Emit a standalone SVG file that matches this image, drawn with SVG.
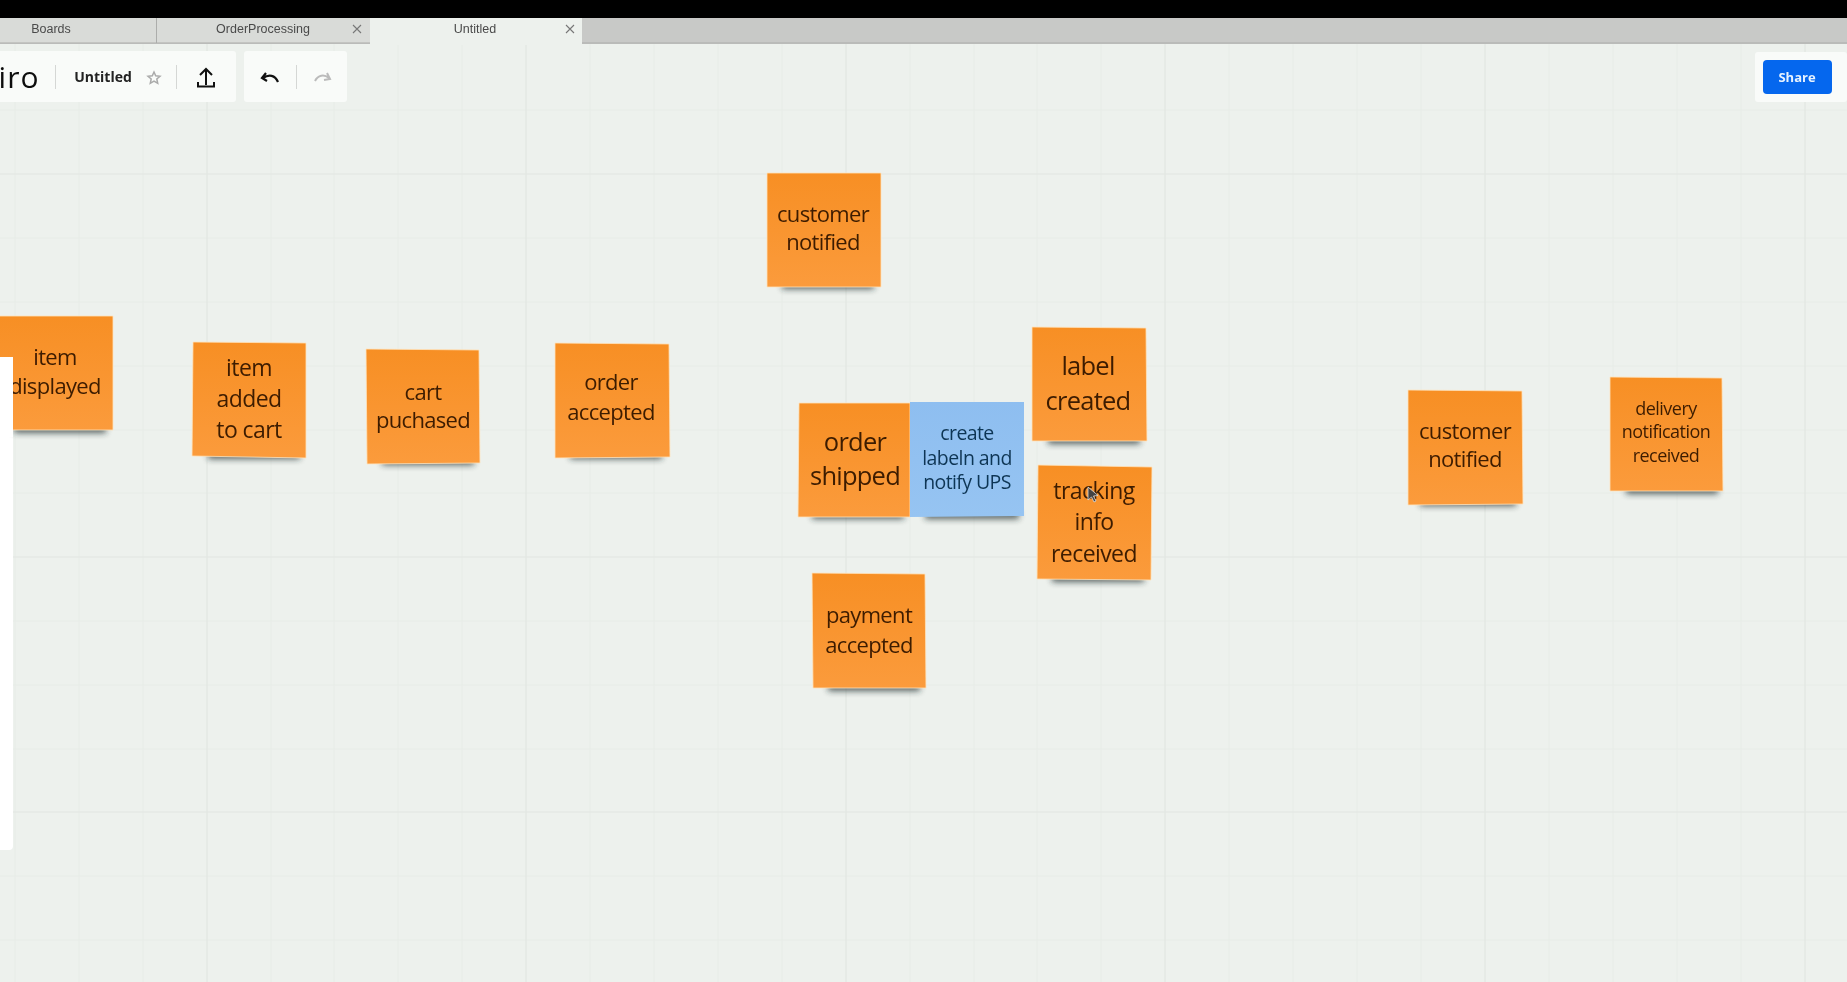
<svg xmlns="http://www.w3.org/2000/svg" width="1847" height="982" viewBox="0 0 1847 982">
<style>
.note{fill:url(#og);stroke:#ffe3bd;stroke-width:.8}
.blue{fill:url(#bg)}
.sh{fill:#1f2b2b;opacity:.72;filter:url(#b3)}
text{font-family:"Open Sans","Noto Sans","DejaVu Sans",sans-serif;text-anchor:middle;fill:#3d1c03;filter:url(#soft)}
.t22{font-size:22px;letter-spacing:-.03em}.t24{font-size:23px;letter-spacing:-.025em}.t26{font-size:25.500px;letter-spacing:-.03em}.t18{font-size:18px;letter-spacing:-.03em}.t20{font-size:19.500px;letter-spacing:-.03em}
.blue-t{fill:#0f3654}
.tab{font-family:"Liberation Sans",sans-serif;font-size:12.500px;fill:#4a4a4a}
.minor{stroke:#e7ece7;stroke-width:1;fill:none}
.major{stroke:#e1e6e1;stroke-width:1.200;fill:none}
.panel{fill:#f9fbf9}
.x{stroke:#777;stroke-width:1.100;fill:none}
</style>
<defs>
<linearGradient id="og" x1="0" y1="0" x2="0" y2="1"><stop offset="0" stop-color="#f78f24"/><stop offset="1" stop-color="#fb9b3c"/></linearGradient>
<linearGradient id="bg" x1="0" y1="0" x2="0" y2="1"><stop offset="0" stop-color="#8ebef0"/><stop offset="1" stop-color="#96c4f2"/></linearGradient>
<filter id="b3" x="-20%" y="-200%" width="140%" height="500%"><feGaussianBlur stdDeviation="3"/></filter>
<filter id="soft" x="-5%" y="-10%" width="110%" height="120%"><feGaussianBlur stdDeviation="0.4"/></filter>
</defs>
<rect width="1847" height="982" fill="#edf1ed"/>
<g id="grid">
<path class="minor" d="M15 44V982M79 44V982M143 44V982M271 44V982M334 44V982M398 44V982M462 44V982M590 44V982M654 44V982M718 44V982M782 44V982M910 44V982M974 44V982M1037 44V982M1101 44V982M1229 44V982M1293 44V982M1357 44V982M1421 44V982M1549 44V982M1613 44V982M1677 44V982M1741 44V982"/>
<path class="minor" d="M0 110H1847M0 238H1847M0 302H1847M0 366H1847M0 430H1847M0 493H1847M0 621H1847M0 685H1847M0 749H1847M0 876H1847M0 940H1847"/>
<path class="major" d="M207 44V982M526 44V982M846 44V982M1165 44V982M1485 44V982M1805 44V982M0 174H1847M0 557H1847M0 812H1847"/>
</g>
<g id="browser-bar">
<rect y="0" width="1847" height="18" fill="#000"/>
<rect y="18" width="1847" height="26" fill="#c8c9c7"/>
<rect y="18" width="370" height="25" fill="#d9dbd8"/>
<rect x="370" y="18" width="212" height="27" fill="#edf1ed"/>
<path d="M156.500 18V43M0 43H370M582 43H1847" stroke="#acadab" fill="none"/>
<text class="tab" x="51" y="33">Boards</text>
<text class="tab" x="263" y="33">OrderProcessing</text>
<text class="tab" x="475" y="33">Untitled</text>
<path class="x" d="M353 25L361 33M361 25L353 33M566 25L574 33M574 25L566 33"/>
</g>
<g id="toolbar">
<rect x="-6" y="51" width="242" height="51" rx="3" class="panel"/>
<rect x="244" y="51" width="103" height="51" rx="3" class="panel"/>
<text x="19" y="88" style="font-size:30px;fill:#111;letter-spacing:1px">iro</text>
<path d="M55.500 65V89M176.500 65V89M296.500 65V89" stroke="#d5d7d5" fill="none"/>
<text x="103" y="82" style="font-size:14px;font-weight:700;fill:#222">Untitled</text>
<path d="M154 72l1.700 3.700 4.300.5-3.200 2.800.9 4.300-3.700-2.200-3.700 2.200.9-4.300-3.200-2.800 4.300-.5z" fill="none" stroke="#aaa" stroke-width="1.500"/>
<path d="M206 85V70M200 75l6-6 6 6M198 82v4.500h16V82" fill="none" stroke="#111" stroke-width="2"/>
<path d="M266 73l-4 5 5 3M263 78c6-4 12-3 15 4" fill="none" stroke="#111" stroke-width="2.200"/>
<path d="M327 73l3 6-6 1M329 78c-5-4-11-3-14 3" fill="none" stroke="#bbb" stroke-width="2"/>
</g>
<g id="share">
<rect x="1755" y="52" width="92" height="50" rx="3" class="panel"/>
<rect x="1763" y="60" width="69" height="34" rx="4" fill="#0567ee"/>
<text x="1797" y="82" style="font-size:13px;font-weight:700;fill:#e6f2ff">Share</text>
</g>
<rect id="side-panel" x="-6" y="357" width="19" height="493" rx="4" fill="#fff"/>
<g id="connectors"></g>
<g id="n1"><rect class="sh" x="782" y="281" width="92" height="8"/><polygon class="note" points="767,173 881,173 881,287 767,287"/><text class="t22"><tspan x="823" y="222">customer</tspan><tspan x="823" y="250">notified</tspan></text></g>
<g id="n2"><rect class="sh" x="14" y="425" width="92" height="8"/><polygon class="note" points="-2,316 113,316 113,430 -2,430"/><text class="t22"><tspan x="55" y="365">item</tspan><tspan x="55" y="394">displayed</tspan></text></g>
<rect x="-6" y="357" width="19" height="80" fill="#fff"/>
<g id="n3"><rect class="sh" x="208" y="451" width="92" height="8"/><polygon class="note" points="193,342 306,343 306,458 192,456"/><text class="t24"><tspan x="249" y="376">item</tspan><tspan x="249" y="407">added</tspan><tspan x="249" y="438">to cart</tspan></text></g>
<g id="n4"><rect class="sh" x="382" y="457" width="92" height="8"/><polygon class="note" points="366,349 479,350 480,463 367,464"/><text class="t22"><tspan x="423" y="400">cart</tspan><tspan x="423" y="428">puchased</tspan></text></g>
<g id="n5"><rect class="sh" x="570" y="451" width="92" height="8"/><polygon class="note" points="555,343 669,344 670,457 555,458"/><text class="t22"><tspan x="611" y="390">order</tspan><tspan x="611" y="420">accepted</tspan></text></g>
<g id="n6"><rect class="sh" x="812" y="511" width="92" height="8"/><polygon class="note" points="799,403 910,403 910,517 798,517"/><text class="t26"><tspan x="855" y="451">order</tspan><tspan x="855" y="485">shipped</tspan></text></g>
<g id="n7"><rect class="sh" x="925" y="511" width="94" height="8"/><polygon class="blue" points="910,402 1024,402 1024,516 910,517"/><text class="t20 blue-t"><tspan x="967" y="440">create</tspan><tspan x="967" y="465">labeln and</tspan><tspan x="967" y="489">notify UPS</tspan></text></g>
<g id="n8"><rect class="sh" x="1048" y="436" width="92" height="8"/><polygon class="note" points="1032,327 1146,328 1147,441 1032,441"/><text class="t26"><tspan x="1088" y="375">label</tspan><tspan x="1088" y="410">created</tspan></text></g>
<g id="n9"><rect class="sh" x="1052" y="574" width="92" height="8"/><polygon class="note" points="1038,465 1152,467 1151,580 1037,579"/><text class="t24"><tspan x="1094" y="499">tracking</tspan><tspan x="1094" y="530">info</tspan><tspan x="1094" y="562">received</tspan></text><path d="M1088 487l0 13 3.500-3 2.500 5 2-1-2.500-5 4.500-.5z" fill="#444" stroke="#ddd" stroke-width=".8"/></g>
<g id="n10"><rect class="sh" x="828" y="683" width="92" height="8"/><polygon class="note" points="812,573 925,574 926,688 813,688"/><text class="t22"><tspan x="869" y="623">payment</tspan><tspan x="869" y="653">accepted</tspan></text></g>
<g id="n11"><rect class="sh" x="1420" y="498" width="96" height="8"/><polygon class="note" points="1408,390 1522,391 1523,504 1408,505"/><text class="t22"><tspan x="1465" y="439">customer</tspan><tspan x="1465" y="467">notified</tspan></text></g>
<g id="n12"><rect class="sh" x="1626" y="486" width="92" height="8"/><polygon class="note" points="1610,377 1722,378 1723,491 1610,491"/><text class="t18"><tspan x="1666" y="415">delivery</tspan><tspan x="1666" y="438">notification</tspan><tspan x="1666" y="462">received</tspan></text></g>
</svg>
